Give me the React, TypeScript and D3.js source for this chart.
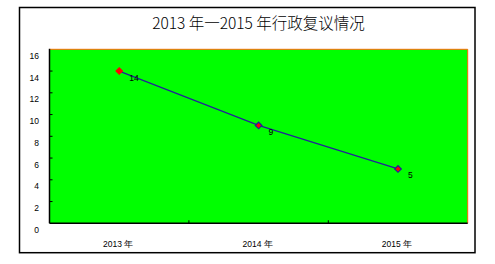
import React from "react";
import * as d3 from "d3";

const categories = ["2013 年", "2014 年", "2015 年"];
const values = [14, 9, 5];
const yTicks = [0, 2, 4, 6, 8, 10, 12, 14, 16];
const title = "2013 年一2015 年行政复议情况";

export default function App() {
  const W = 495, H = 264;
  const left = 49.5, right = 467.7, top = 49.3, bottom = 223.3;
  const x = d3.scaleBand().domain(categories).range([left, right]);
  const y = d3.scaleLinear().domain([0, 16]).range([bottom, top]);
  const line = d3
    .line<number>()
    .x((_, i) => x(categories[i])! + x.bandwidth() / 2)
    .y((d) => y(d));
  const diamond = d3.symbol().type(d3.symbolSquare).size(22)();
  const lblFont = "'Liberation Sans', Arial, sans-serif";
  return (
    <svg width={W} height={H} style={{ position: "absolute", left: 0, top: 0 }}>
      <rect x={0} y={0} width={W} height={H} fill="#fff" />
      <rect x={19.5} y={7.5} width={455.5} height={245.2} fill="#fff" stroke="#000" strokeWidth={1.5} />
      <text
        x={258.5}
        y={28.5}
        textAnchor="middle"
        fontFamily="'Noto Sans CJK SC', sans-serif"
        fontSize={15.5}
        fontWeight={300}
        fill="#000"
      >
        {title}
      </text>
      <rect x={left} y={top} width={right - left} height={bottom - top} fill="#00ff00" />
      <line x1={left} x2={right} y1={top} y2={top} stroke="#ff6600" strokeWidth={1} />
      <line x1={right} x2={right} y1={top} y2={bottom} stroke="#ff6600" strokeWidth={1} />
      <line x1={left} x2={left} y1={top - 0.5} y2={bottom} stroke="#000" strokeWidth={1.5} />
      <line x1={left} x2={right} y1={bottom} y2={bottom} stroke="#000" strokeWidth={1.5} />
      {yTicks.map((t) => (
        <g key={t}>
          {t > 0 && t < 16 && (
            <line x1={left} x2={left + 3} y1={y(t)} y2={y(t)} stroke="#000" strokeWidth={1} />
          )}
          <text
            x={39}
            y={y(t) + 6.5}
            textAnchor="end"
            dominantBaseline="central"
            fontFamily={lblFont}
            fontSize={8.5}
            fill="#000"
          >
            {t}
          </text>
        </g>
      ))}
      {categories.map((c, i) => (
        <g key={c}>
          {i > 0 && (
            <line x1={x(c)!} x2={x(c)!} y1={bottom} y2={bottom - 3} stroke="#000" strokeWidth={1} />
          )}
          <text
            x={x(c)! + x.bandwidth() / 2 - 1}
            y={244}
            textAnchor="middle"
            dominantBaseline="central"
            fontFamily={lblFont}
            fontSize={8.5}
            fill="#000"
          >
            {c}
          </text>
        </g>
      ))}
      <path d={line(values) || ""} fill="none" stroke="#22229a" strokeWidth={1.3} />
      {values.map((v, i) => {
        const cx = x(categories[i])! + x.bandwidth() / 2;
        const cy = y(v);
        return (
          <g key={i}>
            {i === 0 ? (
              <path d={diamond} transform={`translate(${cx},${cy}) rotate(45)`} fill="#ff0000" stroke="#ff0000" strokeWidth={1} />
            ) : (
              <path d={diamond} transform={`translate(${cx},${cy}) rotate(45)`} fill="#ff0000" stroke="#22229a" strokeWidth={1.2} />
            )}
            <text
              x={cx + 10}
              y={cy + 6.5}
              dominantBaseline="central"
              fontFamily={lblFont}
              fontSize={8.5}
              fill="#000"
            >
              {v}
            </text>
          </g>
        );
      })}
    </svg>
  );
}
